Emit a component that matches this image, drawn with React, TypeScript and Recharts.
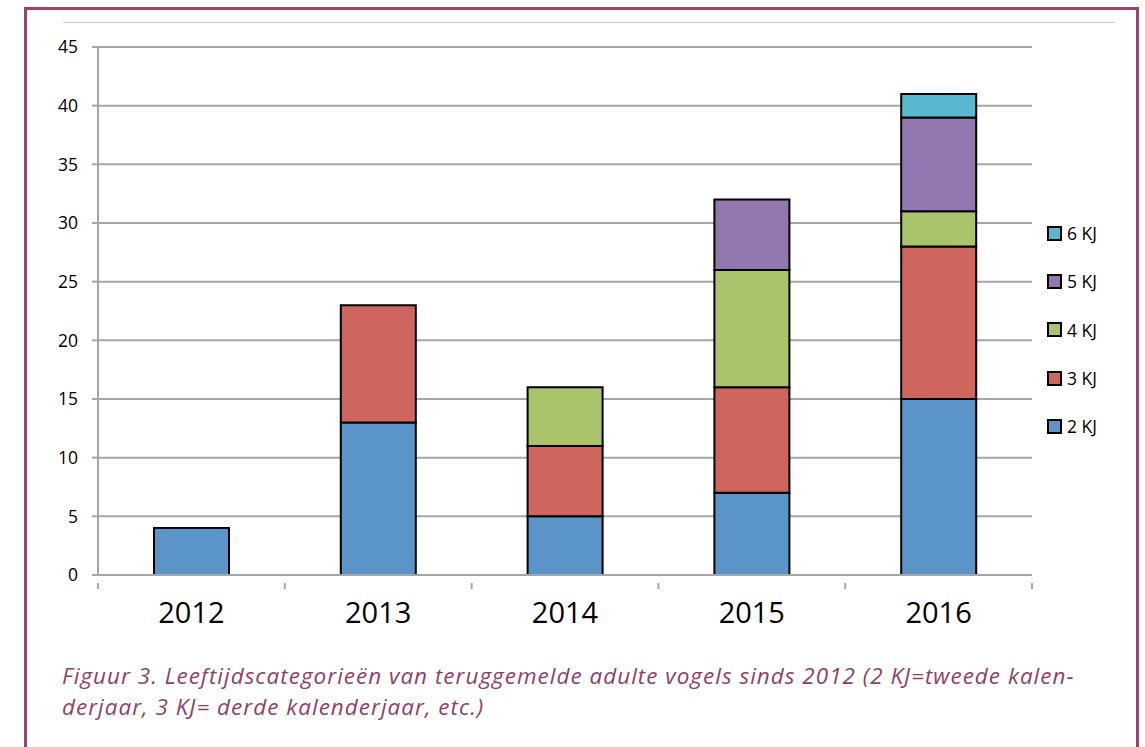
import React from 'react';
import { BarChart, Bar, XAxis, YAxis, CartesianGrid } from 'recharts';

const years = ['2012', '2013', '2014', '2015', '2016'];
const kj2 = [4, 13, 5, 7, 15];
const kj3 = [0, 10, 6, 9, 13];
const kj4 = [0, 0, 5, 10, 3];
const kj5 = [0, 0, 0, 6, 8];
const kj6 = [0, 0, 0, 0, 2];
const yTicks = [0, 5, 10, 15, 20, 25, 30, 35, 40, 45];

const series = [
    { key: 'kj2', label: '2 KJ', color: '#5b94c8', values: kj2 },
    { key: 'kj3', label: '3 KJ', color: '#cf665d', values: kj3 },
    { key: 'kj4', label: '4 KJ', color: '#a9c46a', values: kj4 },
    { key: 'kj5', label: '5 KJ', color: '#9179b0', values: kj5 },
    { key: 'kj6', label: '6 KJ', color: '#58b9ce', values: kj6 },
];

const data = years.map((year, i) => {
    const row: any = { year };
    series.forEach((s) => {
        row[s.key] = s.values[i] || null;
    });
    return row;
});

const FONT = '"Open Sans", sans-serif';
const PLOT_LEFT = 98;
const PLOT_RIGHT = 1032;
const BAND = (PLOT_RIGHT - PLOT_LEFT) / years.length;

// x-axis tick: label at the band centre, tick marks on the band edges
function YearTick(props: any) {
    const { x, y, payload, index } = props;
    return (
        <g>
            <line x1={x - BAND / 2} x2={x - BAND / 2} y1={y} y2={y + 6} stroke="#a6a6a6" strokeWidth={2} />
            {index === years.length - 1 && (
                <line x1={x + BAND / 2} x2={x + BAND / 2} y1={y} y2={y + 6} stroke="#a6a6a6" strokeWidth={2} />
            )}
            <text x={x} y={y + 40} textAnchor="middle" fill="#000" fontSize={29} fontFamily={FONT}>
                {payload.value}
            </text>
        </g>
    );
}

export default function App() {
    return (
        <div style={{ position: 'absolute', left: 0, top: 0, width: 1145, height: 747, background: '#fff', overflow: 'hidden' }}>
            <div
                style={{
                    position: 'absolute',
                    left: 24,
                    top: 7,
                    width: 1115,
                    height: 760,
                    border: '3px solid #96456f',
                    boxSizing: 'border-box',
                }}
            />
            <div style={{ position: 'absolute', left: 63, top: 22, width: 1052, height: 1, background: '#c8c8c8' }} />
            <div style={{ position: 'absolute', left: 0, top: 0 }}>
                <BarChart
                    width={1145}
                    height={660}
                    data={data}
                    margin={{ top: 47, right: 1145 - PLOT_RIGHT, left: 40, bottom: 40 }}
                >
                    <CartesianGrid vertical={false} stroke="#a6a6a6" strokeWidth={2} />
                    <XAxis
                        dataKey="year"
                        height={45}
                        tickLine={false}
                        axisLine={{ stroke: '#a6a6a6', strokeWidth: 2 }}
                        tick={<YearTick />}
                        interval={0}
                    />
                    <YAxis
                        width={58}
                        domain={[0, 45]}
                        ticks={yTicks}
                        interval={0}
                        tickSize={6}
                        tickMargin={14}
                        tickLine={{ stroke: '#a6a6a6', strokeWidth: 2 }}
                        axisLine={{ stroke: '#a6a6a6', strokeWidth: 2 }}
                        tick={{ fill: '#000', fontSize: 17.5, fontFamily: FONT }}
                    />
                    {series.map((s) => (
                        <Bar
                            key={s.key}
                            dataKey={s.key}
                            stackId="a"
                            fill={s.color}
                            stroke="#000"
                            strokeWidth={2}
                            barSize={75}
                            isAnimationActive={false}
                        />
                    ))}
                </BarChart>
            </div>
            <div style={{ position: 'absolute', left: 1047, top: 209, fontFamily: FONT, fontSize: 17.5, color: '#000' }}>
                {[...series].reverse().map((s) => (
                    <div key={s.key} style={{ display: 'flex', alignItems: 'center', height: 48.3 }}>
                        <span
                            style={{
                                display: 'inline-block',
                                width: 11,
                                height: 11,
                                background: s.color,
                                border: '2px solid #000',
                                marginRight: 5,
                            }}
                        />
                        <span>{s.label}</span>
                    </div>
                ))}
            </div>
            <div
                style={{
                    position: 'absolute',
                    left: 62,
                    top: 660,
                    fontFamily: FONT,
                    fontStyle: 'italic',
                    fontSize: 22.5,
                    letterSpacing: 1,
                    lineHeight: '31px',
                    color: '#8e3f68',
                    whiteSpace: 'nowrap',
                }}
            >
                <div>Figuur 3. Leeftijdscategorieën van teruggemelde adulte vogels sinds 2012 (2 KJ=tweede kalen-</div>
                <div>derjaar, 3 KJ= derde kalenderjaar, etc.)</div>
            </div>
        </div>
    );
}
